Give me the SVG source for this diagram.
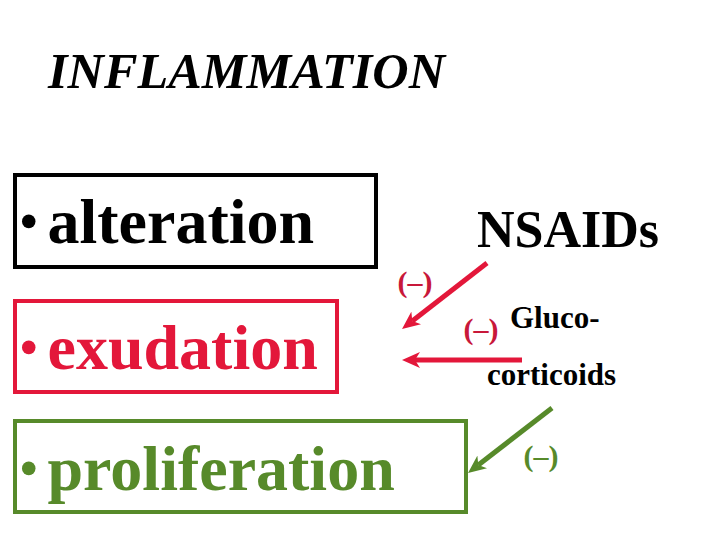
<svg xmlns="http://www.w3.org/2000/svg" width="720" height="540" viewBox="0 0 720 540">
<style>
.serif{font-family:"Liberation Serif","Times New Roman",serif;font-weight:bold}
.box{fill:none;stroke-width:4}
.big{font-size:64px}
.bul{font-size:50px}
.lbl{font-family:"Liberation Serif","Times New Roman",serif;font-size:30px;font-weight:bold;text-anchor:middle}
.red{fill:#e3173a}
.green{fill:#578a2a}
.arr{stroke-width:5}
</style>
<defs>
<marker id="ahRed" markerUnits="userSpaceOnUse" markerWidth="18" markerHeight="16" refX="5" refY="8" orient="auto">
<path d="M0,0 L18,8 L0,16 L5,8 z" fill="#e3173a"/>
</marker>
<marker id="ahGreen" markerUnits="userSpaceOnUse" markerWidth="18" markerHeight="16" refX="5" refY="8" orient="auto">
<path d="M0,0 L18,8 L0,16 L5,8 z" fill="#578a2a"/>
</marker>
</defs>
<rect width="720" height="540" fill="#ffffff"/>
<g id="title">
<text x="48" y="88" class="serif" font-style="italic" font-size="50" textLength="397" lengthAdjust="spacingAndGlyphs">INFLAMMATION</text>
</g>
<g id="alteration">
<rect x="15" y="175" width="361" height="92" class="box" stroke="#000000"/>
<text x="20" y="238" class="serif" fill="#000000"><tspan class="bul">•</tspan><tspan class="big" dx="10" y="243">alteration</tspan></text>
</g>
<g id="exudation">
<rect x="15" y="301" width="322" height="91" class="box" stroke="#e3173a"/>
<text x="20" y="364" class="serif red"><tspan class="bul">•</tspan><tspan class="big" dx="10" y="369">exudation</tspan></text>
</g>
<g id="proliferation">
<rect x="15" y="421" width="451" height="91" class="box" stroke="#578a2a"/>
<text x="20" y="485" class="serif green"><tspan class="bul">•</tspan><tspan class="big" dx="10" y="490">proliferation</tspan></text>
</g>
<g id="nsaids">
<text x="477" y="247" class="serif" font-size="52" fill="#000000">NSAIDs</text>
</g>
<g id="glucocorticoids">
<text x="510" y="328" class="serif" font-size="31" fill="#000000">Gluco-</text>
<text x="487" y="385" class="serif" font-size="31" fill="#000000">corticoids</text>
</g>
<g id="connectors">
<line x1="487" y1="263" x2="412.3" y2="321" stroke="#e3173a" class="arr" marker-end="url(#ahRed)"/>
<line x1="522" y1="360" x2="415" y2="360" stroke="#e3173a" class="arr" marker-end="url(#ahRed)"/>
<line x1="552" y1="408" x2="478.3" y2="465" stroke="#578a2a" class="arr" marker-end="url(#ahGreen)"/>
<text x="415" y="292" class="lbl" fill="#c8183a">(–)</text>
<text x="481" y="339" class="lbl" fill="#c8183a">(–)</text>
<text x="541" y="466" class="lbl" fill="#578a2a">(–)</text>
</g>
</svg>
